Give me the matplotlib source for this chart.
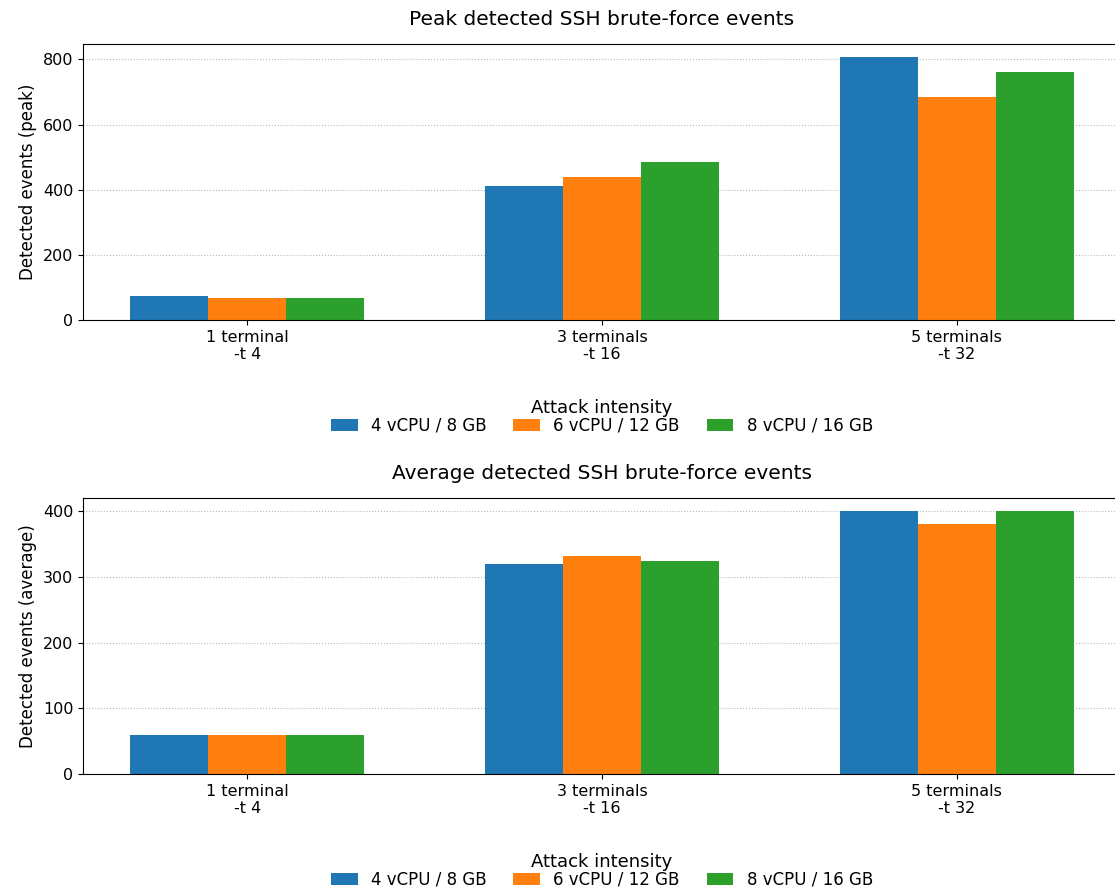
import matplotlib
matplotlib.use("Agg")
import matplotlib.pyplot as plt
from matplotlib.ticker import MultipleLocator
import numpy as np

# data
intensity = ["1 terminal\n-t 4", "3 terminals\n-t 16", "5 terminals\n-t 32"]
configs = ["4 vCPU / 8 GB", "6 vCPU / 12 GB", "8 vCPU / 16 GB"]
peak_4 = [74, 411, 807]
peak_6 = [68, 439, 684]
peak_8 = [68, 485, 761]
avg_4 = [60, 320, 400]
avg_6 = [60, 331, 380]
avg_8 = [60, 324, 400]

colors = ["#1f77b4", "#ff7f0e", "#2ca02c"]

fig = plt.figure(figsize=(11.15, 8.91), dpi=100)
ax1 = fig.add_axes([83 / 1115, 1 - 320 / 891, (1121 - 83) / 1115, 276 / 891])
ax2 = fig.add_axes([83 / 1115, 1 - 774 / 891, (1121 - 83) / 1115, 276 / 891])

x = np.arange(len(intensity))
w = 0.22


def draw(ax, series, title, ylabel, step):
    for i, (vals, lab) in enumerate(zip(series, configs)):
        ax.bar(x + (i - 1) * w, vals, w, color=colors[i], label=lab, zorder=2)
    ax.set_xticks(x)
    ax.set_xticklabels(intensity, fontsize=11.5)
    ax.yaxis.set_major_locator(MultipleLocator(step))
    ax.tick_params(axis="y", labelsize=11.5)
    ax.set_ylabel(ylabel, fontsize=12)
    ax.set_title(title, fontsize=14.5, pad=14)
    ax.grid(axis="y", linestyle=":", color="#b8b8b8", zorder=0)
    ax.legend(title="Attack intensity", loc="upper center", bbox_to_anchor=(0.5, -0.285),
              ncol=3, frameon=False, fontsize=12, title_fontsize=13,
              handlelength=1.6, columnspacing=1.6, borderaxespad=0, borderpad=0,
              labelspacing=0.0)


draw(ax1, [peak_4, peak_6, peak_8], "Peak detected SSH brute-force events", "Detected events (peak)", 200)
draw(ax2, [avg_4, avg_6, avg_8], "Average detected SSH brute-force events", "Detected events (average)", 100)

fig.savefig("out.png", dpi=100)
